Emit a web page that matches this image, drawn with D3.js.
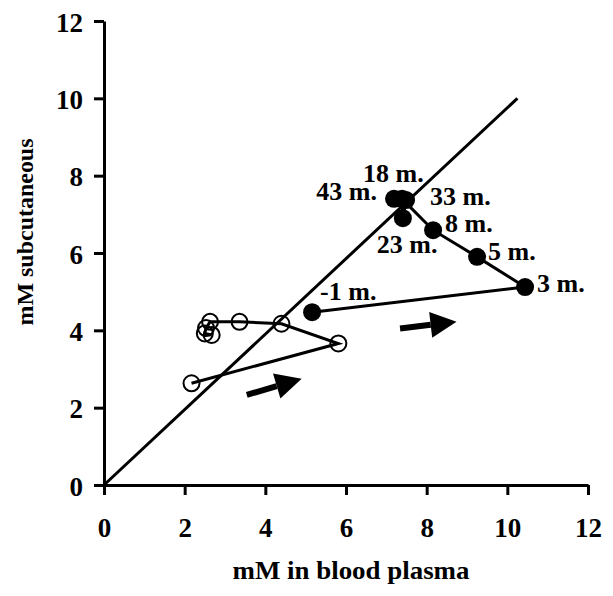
<!DOCTYPE html>
<html>
<head>
<meta charset="utf-8">
<script src="https://cdn.jsdelivr.net/npm/d3@7"></script>
<style>
  body { margin: 0; background: #fff; }
  text { font-family: "Liberation Serif", "Times New Roman", serif; font-weight: bold; fill: #000; }
</style>
</head>
<body>
<div id="chart"></div>
<script>
// data
var ticks = [0, 2, 4, 6, 8, 10, 12];

// filled circles, time after injection
var timeLabels = ["-1 m.", "3 m.", "5 m.", "8 m.", "18 m.", "23 m.", "33 m.", "43 m."];
var plasma = [5.16, 10.44, 9.25, 8.16, 7.39, 7.41, 7.49, 7.19];
var subcut = [4.47, 5.12, 5.90, 6.59, 7.40, 6.90, 7.37, 7.40];

// open circles
var openPlasma = [2.17, 5.81, 4.40, 3.36, 2.63, 2.53, 2.50, 2.67];
var openSubcut = [2.63, 3.66, 4.17, 4.22, 4.22, 4.06, 3.92, 3.88];

// line of identity
var unityX = [0, 10.25];
var unitY = [0, 10];

// arrows [tailX, tailY, tipX, tipY]
var arrows = [[3.54, 2.33, 4.90, 2.75], [7.34, 4.05, 8.74, 4.22]];

// label placement (pixels, relative to point)
var labelPos = [
  [8, -12, "start"], [12, 5, "start"], [11, 3, "start"], [12, 2, "start"],
  [-39, -17, "start"], [-26, 35, "start"], [24, 5, "start"], [-17, 1, "end"]
];

var width = 613, height = 596;
var svg = d3.select("#chart").append("svg")
  .attr("width", width)
  .attr("height", height);

var x = d3.scaleLinear().domain([0, 12]).range([104, 588]);
var y = d3.scaleLinear().domain([0, 12]).range([485, 21]);

// axes
var xAxis = svg.append("g")
  .attr("transform", "translate(0," + y(0) + ")")
  .call(d3.axisBottom(x).tickValues(ticks).tickSize(10).tickSizeOuter(0).tickPadding(23));
var yAxis = svg.append("g")
  .attr("transform", "translate(" + x(0) + ",0)")
  .call(d3.axisLeft(y).tickValues(ticks).tickSize(10).tickSizeOuter(0).tickPadding(11));

[xAxis, yAxis].forEach(function(g) {
  g.selectAll("path, line").attr("stroke", "#000").attr("stroke-width", 3);
  g.selectAll("text").style("font-size", "27px").attr("fill", "#000");
});
yAxis.selectAll("text").attr("dy", "0.38em");

// axis titles
svg.append("text")
  .attr("x", 351)
  .attr("y", 579)
  .attr("text-anchor", "middle")
  .attr("textLength", 237)
  .attr("lengthAdjust", "spacingAndGlyphs")
  .style("font-size", "25px")
  .text("mM in blood plasma");
svg.append("text")
  .attr("transform", "translate(33,232) rotate(-90)")
  .attr("text-anchor", "middle")
  .attr("textLength", 187)
  .attr("lengthAdjust", "spacingAndGlyphs")
  .style("font-size", "24px")
  .text("mM subcutaneous");

// identity line
svg.append("line")
  .attr("x1", x(unityX[0])).attr("y1", y(unitY[0]))
  .attr("x2", x(unityX[1])).attr("y2", y(unitY[1]))
  .attr("stroke", "#000").attr("stroke-width", 3);

// open series
var openPts = openPlasma.map(function(d, i) { return [d, openSubcut[i]]; });
var line = d3.line().x(function(d) { return x(d[0]); }).y(function(d) { return y(d[1]); });
svg.append("path")
  .attr("d", line(openPts))
  .attr("fill", "none").attr("stroke", "#000").attr("stroke-width", 3);
svg.selectAll("circle.open").data(openPts).enter().append("circle")
  .attr("class", "open")
  .attr("cx", function(d) { return x(d[0]); })
  .attr("cy", function(d) { return y(d[1]); })
  .attr("r", 8)
  .attr("fill", "none")
  .attr("stroke", "#000")
  .attr("stroke-width", 2);

// filled series
var pts = plasma.map(function(d, i) { return [d, subcut[i]]; });
svg.append("path")
  .attr("d", line(pts))
  .attr("fill", "none").attr("stroke", "#000").attr("stroke-width", 3);
svg.selectAll("circle.fill").data(pts).enter().append("circle")
  .attr("class", "fill")
  .attr("cx", function(d) { return x(d[0]); })
  .attr("cy", function(d) { return y(d[1]); })
  .attr("r", 9)
  .attr("fill", "#000");

svg.selectAll("text.lab").data(pts).enter().append("text")
  .attr("class", "lab")
  .attr("x", function(d, i) { return x(d[0]) + labelPos[i][0]; })
  .attr("y", function(d, i) { return y(d[1]) + labelPos[i][1]; })
  .attr("text-anchor", function(d, i) { return labelPos[i][2]; })
  .style("font-size", "26px")
  .text(function(d, i) { return timeLabels[i]; });

// arrows
arrows.forEach(function(a) {
  var x1 = x(a[0]), y1 = y(a[1]), x2 = x(a[2]), y2 = y(a[3]);
  var ang = Math.atan2(y2 - y1, x2 - x1);
  var headLen = 26, headW = 13;
  var bx = x2 - headLen * Math.cos(ang), by = y2 - headLen * Math.sin(ang);
  svg.append("line")
    .attr("x1", x1).attr("y1", y1).attr("x2", bx).attr("y2", by)
    .attr("stroke", "#000").attr("stroke-width", 6);
  var px = -Math.sin(ang), py = Math.cos(ang);
  svg.append("polygon")
    .attr("points", [
      [x2, y2],
      [bx + headW * px, by + headW * py],
      [bx - headW * px, by - headW * py]
    ].map(function(p) { return p.join(","); }).join(" "))
    .attr("fill", "#000");
});
</script>
</body>
</html>
